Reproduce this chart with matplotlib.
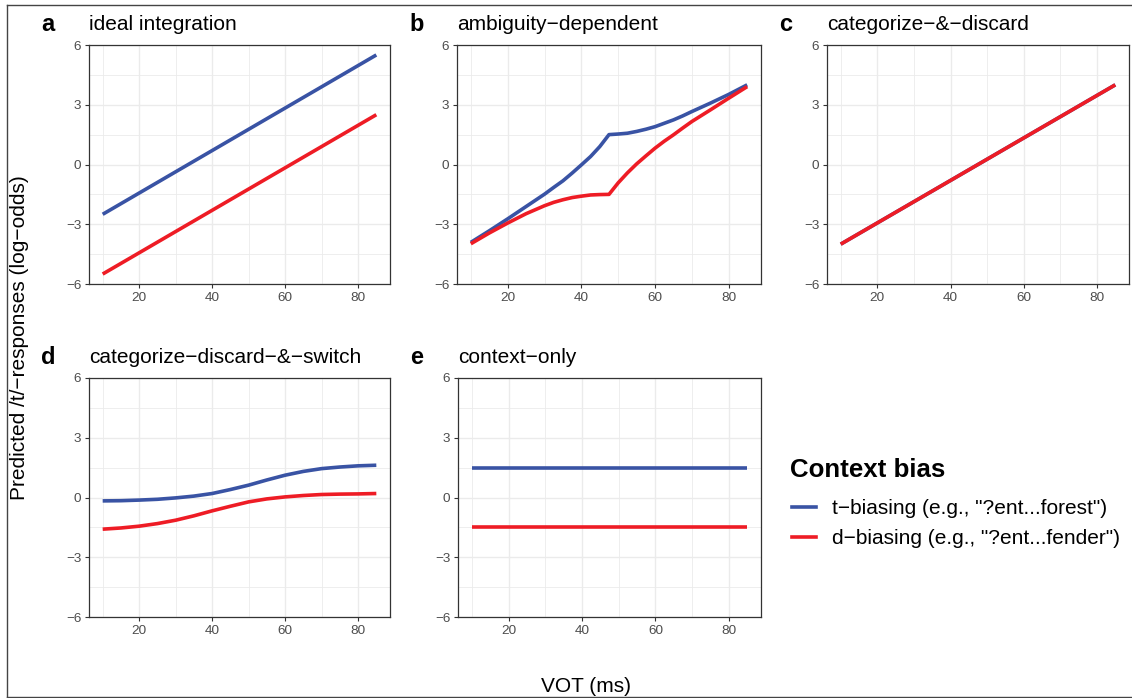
import matplotlib
matplotlib.use('Agg')
import matplotlib.pyplot as plt
from matplotlib.lines import Line2D
from matplotlib.ticker import FixedLocator

plt.rcParams['font.family'] = ['Liberation Sans', 'DejaVu Sans']

# ---------------- data ----------------
panel_letters = ['a', 'b', 'c', 'd', 'e']
panel_titles = ['ideal integration', 'ambiguity\u2212dependent', 'categorize\u2212&\u2212discard',
                'categorize\u2212discard\u2212&\u2212switch', 'context\u2212only']
legend_title = 'Context bias'
legend_labels = ['t\u2212biasing (e.g., "?ent...forest")', 'd\u2212biasing (e.g., "?ent...fender")']

# a: ideal integration
ideal_vot = [10, 85]
ideal_t = [-2.5, 5.5]
ideal_d = [-5.5, 2.5]

# b: ambiguity-dependent
amb_vot = [10, 15, 20, 25, 30, 32.5, 35, 37.5, 40, 42.5, 45, 47.5,
           50, 52.5, 55, 57.5, 60, 62.5, 65, 67.5, 70, 75, 80, 85]
amb_t = [-3.91, -3.33, -2.73, -2.11, -1.49, -1.15, -0.82, -0.43, -0.02, 0.40, 0.90, 1.50,
         1.53, 1.57, 1.66, 1.77, 1.90, 2.07, 2.24, 2.44, 2.66, 3.08, 3.52, 4.00]
amb_d = [-3.98, -3.44, -2.94, -2.47, -2.07, -1.90, -1.77, -1.66, -1.59, -1.53, -1.51, -1.50,
         -0.92, -0.42, 0.03, 0.43, 0.82, 1.17, 1.49, 1.83, 2.16, 2.74, 3.33, 3.91]

# c: categorize-&-discard
cd_vot = [10, 85]
cd_t = [-4.0, 4.0]
cd_d = [-4.0, 4.0]

# d: categorize-discard-&-switch
cds_vot = [10, 15, 20, 25, 30, 35, 40, 45, 50, 55, 60, 65, 70, 75, 80, 85]
cds_t = [-0.17, -0.16, -0.13, -0.09, -0.02, 0.07, 0.20, 0.40, 0.62, 0.88, 1.12, 1.31, 1.45, 1.53, 1.59, 1.62]
cds_d = [-1.59, -1.53, -1.44, -1.31, -1.14, -0.92, -0.67, -0.44, -0.22, -0.07, 0.03, 0.10, 0.15, 0.17, 0.18, 0.20]

# e: context-only
ctx_vot = [10, 85]
ctx_t = [1.5, 1.5]
ctx_d = [-1.5, -1.5]

panel_data = [(ideal_vot, ideal_t, ideal_d), (amb_vot, amb_t, amb_d), (cd_vot, cd_t, cd_d),
              (cds_vot, cds_t, cds_d), (ctx_vot, ctx_t, ctx_d)]

x_major = [20, 40, 60, 80]
x_minor = [10, 30, 50, 70]
y_major = [-6, -3, 0, 3, 6]
y_minor = [-4.5, -1.5, 1.5, 4.5]

# ---------------- style ----------------
W, H = 1132, 698
BLUE = '#3953A4'
RED = '#EE1C25'


def fx(px):
    return px / W


def fy(py):
    return 1 - py / H


fig = plt.figure(figsize=(W / 100, H / 100), dpi=100)

# panel positions in pixels: left, right, top, bottom
boxes = [(89, 390, 45, 284), (457, 761, 45, 284), (827, 1129, 45, 284),
         (89, 390, 378, 617), (458, 761, 378, 617)]

for i, (l, r, t, b) in enumerate(boxes):
    ax = fig.add_axes([fx(l), fy(b), (r - l) / W, (b - t) / H])
    xs, yt, yd = panel_data[i]
    ax.plot(xs, yt, color=BLUE, lw=2.6, solid_capstyle='butt', solid_joinstyle='round', zorder=3)
    ax.plot(xs, yd, color=RED, lw=2.6, solid_capstyle='butt', solid_joinstyle='round', zorder=4)
    ax.set_xlim(6.25, 88.75)
    ax.set_ylim(-6, 6)
    ax.xaxis.set_major_locator(FixedLocator(x_major))
    ax.xaxis.set_minor_locator(FixedLocator(x_minor))
    ax.yaxis.set_major_locator(FixedLocator(y_major))
    ax.yaxis.set_minor_locator(FixedLocator(y_minor))
    ax.grid(which='major', color='#EBEBEB', lw=1.0)
    ax.grid(which='minor', color='#EBEBEB', lw=0.6)
    ax.set_axisbelow(True)
    for s in ax.spines.values():
        s.set_color('#333333')
        s.set_linewidth(0.9)
    ax.tick_params(which='major', length=3, width=0.8, color='#333333',
                   labelsize=9.7, labelcolor='#4D4D4D', pad=2.5)
    ax.tick_params(which='minor', length=0)
    # letter and title
    fig.text(fx(l - 48), fy(t - 14), panel_letters[i], fontsize=17, fontweight='bold',
             ha='left', va='baseline', color='black')
    fig.text(fx(l), fy(t - 15), panel_titles[i], fontsize=15, ha='left', va='baseline', color='black')

# axis labels
fig.text(fx(20), fy(338), 'Predicted /t/\u2212responses (log\u2212odds)', rotation=90,
         fontsize=15, ha='center', va='center')
fig.text(fx(586), fy(692), 'VOT (ms)', fontsize=15, ha='center', va='baseline')

# legend
fig.text(fx(790), fy(477), legend_title, fontsize=18.6, fontweight='bold',
         ha='left', va='baseline')
handles = [Line2D([], [], color=BLUE, lw=2.6), Line2D([], [], color=RED, lw=2.6)]
fig.legend(handles, legend_labels, loc='upper left',
           bbox_to_anchor=(fx(792), fy(499)), frameon=False, fontsize=15,
           handlelength=1.15, handletextpad=0.77, labelspacing=0.55,
           borderpad=0, borderaxespad=0)

# outer frame (top, left, bottom)
frame_kw = dict(color='#444444', lw=1.0, transform=fig.transFigure)
fig.add_artist(Line2D([fx(6.5), 1.0], [fy(5), fy(5)], **frame_kw))
fig.add_artist(Line2D([fx(6.5), fx(6.5)], [fy(5), fy(697)], **frame_kw))
fig.add_artist(Line2D([fx(6.5), 1.0], [fy(697), fy(697)], **frame_kw))

fig.savefig('out.png', dpi=100)
